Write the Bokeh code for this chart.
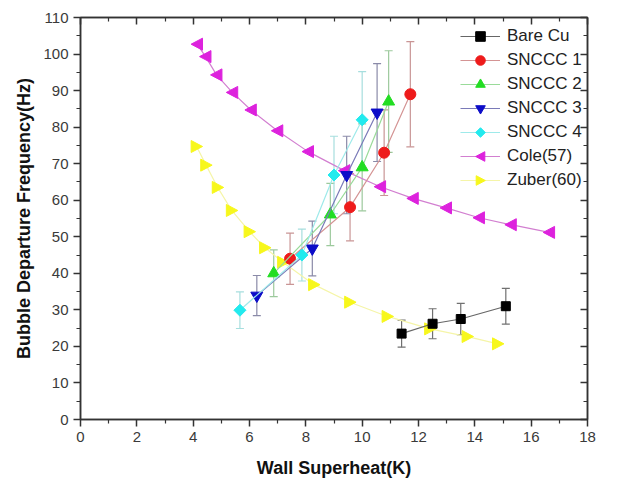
import numpy as np
from bokeh.plotting import figure
from bokeh.models import (Range1d, FixedTicker, LinearAxis, Whisker, TeeHead, CustomJS,
                          ColumnDataSource, Legend, LegendItem, CustomLabelingPolicy)
from bokeh.embed import file_html
from bokeh.resources import INLINE

# ---- data ----
bare_x = [11.4, 12.5, 13.5, 15.1]
bare_y = [23.5, 26.2, 27.5, 31.0]
bare_err = [3.7, 4.1, 4.3, 4.9]

s1_x = [7.44, 9.57, 10.78, 11.71]
s1_y = [44.0, 58.1, 73.0, 89.0]
s1_err = [7.0, 9.2, 11.7, 14.4]

s2_x = [6.86, 8.87, 10.0, 10.94]
s2_y = [40.0, 56.1, 69.0, 87.0]
s2_err = [6.4, 8.5, 11.9, 13.9]

s3_x = [6.26, 8.23, 9.45, 10.53]
s3_y = [33.9, 46.8, 66.9, 84.0]
s3_err = [5.5, 7.5, 10.6, 13.4]

s4_x = [5.66, 7.86, 9.0, 10.0]
s4_y = [29.9, 45.0, 66.9, 82.0]
s4_err = [5.0, 7.1, 10.6, 13.2]

cole_x = [4.14, 4.44, 4.83, 5.39, 6.05, 6.99, 8.08, 9.37, 10.64, 11.8, 12.98, 14.15, 15.28, 16.64]
cole_y = [102.7, 99.3, 94.3, 89.5, 84.7, 79.0, 73.3, 68.1, 63.7, 60.5, 57.9, 55.2, 53.3, 51.2]

zuber_x = [4.12, 4.46, 4.87, 5.37, 6.0, 6.55, 7.19, 8.29, 9.57, 10.9, 12.41, 13.74, 14.82]
zuber_y = [74.7, 69.6, 63.5, 57.2, 51.4, 47.0, 43.0, 36.9, 32.1, 28.2, 24.8, 22.7, 20.7]

x_ticks = [0, 2, 4, 6, 8, 10, 12, 14, 16, 18]
x_minor = [1, 3, 5, 7, 9, 11, 13, 15, 17]
y_ticks = [0, 10, 20, 30, 40, 50, 60, 70, 80, 90, 100, 110]
y_minor = [5, 15, 25, 35, 45, 55, 65, 75, 85, 95, 105]

FONT = "Liberation Sans"
AX = "#333333"

# custom marker outlines (unit shapes, scaled by the marker radius)
SHAPES = {
    "@left": [[-1.0, 0.0], [0.9, -1.0], [0.9, 1.0]],
    "@right": [[1.0, 0.0], [-0.9, -1.0], [-0.9, 1.0]],
    "@rhomb": [[0.0, -1.0], [1.0, 0.0], [0.0, 1.0], [-1.0, 0.0]],
}
MARKER_JS = """
const d = cb_data
const ctx = d.ctx
const r = d.r
ctx.beginPath()
ctx.moveTo(pts[0][0]*r, pts[0][1]*r)
for (let k = 1; k < pts.length; k++) ctx.lineTo(pts[k][0]*r, pts[k][1]*r)
ctx.closePath()
if (d.visuals != null) {
  d.visuals.fill.apply(ctx, d.i)
  d.visuals.line.apply(ctx, d.i)
} else {
  ctx.fillStyle = color
  ctx.fill()
}
"""

p = figure(width=608, height=484, output_backend="svg", toolbar_location=None,
           x_range=Range1d(0, 18), y_range=Range1d(0, 110),
           min_border_left=80, min_border_right=10, min_border_top=17,
           min_border_bottom=65)
p.xgrid.visible = False
p.ygrid.visible = False
p.outline_line_color = AX
p.outline_line_width = 1.5
p.background_fill_color = "white"
p.border_fill_color = "white"

xt = FixedTicker(ticks=x_ticks, minor_ticks=x_minor)
yt = FixedTicker(ticks=y_ticks, minor_ticks=y_minor)

no_labels = CustomLabelingPolicy(code="""
    for (const i of Array.from(indices)) indices.unset(i)
    return indices
""")

def style(ax, labels=True, inward=False):
    ax.axis_line_color = AX
    ax.axis_line_width = 1.5
    ax.major_tick_line_color = AX
    ax.minor_tick_line_color = AX
    ax.major_tick_line_width = 1.5
    ax.minor_tick_line_width = 1.2
    if inward:
        ax.major_tick_in, ax.major_tick_out = 7, 0
        ax.minor_tick_in, ax.minor_tick_out = 4, 0
    else:
        ax.major_tick_in, ax.major_tick_out = 0, 7
        ax.minor_tick_in, ax.minor_tick_out = 0, 4
    if labels:
        ax.major_label_text_font = FONT
        ax.major_label_text_font_size = "15px"
        ax.major_label_text_color = "#3a3a3a"
        ax.major_label_standoff = 5
        ax.axis_label_text_font = FONT
        ax.axis_label_text_font_size = "18px"
        ax.axis_label_text_font_style = "bold"
        ax.axis_label_text_color = "#111111"
    else:
        ax.major_label_policy = no_labels
        ax.major_label_standoff = 0

p.xaxis.ticker = xt
p.yaxis.ticker = yt
p.xaxis.axis_label = "Wall Superheat(K)"
p.yaxis.axis_label = "Bubble Departure Frequency(Hz)"
style(p.xaxis[0])
style(p.yaxis[0])
p.xaxis.axis_label_standoff = 13
p.yaxis.axis_label_standoff = 6

top = LinearAxis(ticker=xt)
style(top, labels=False, inward=True)
p.add_layout(top, "above")
right = LinearAxis(ticker=yt)
style(right, labels=False, inward=True)
p.add_layout(right, "right")

items = {}

def series(name, xs, ys, errs, mcolor, lcolor, ecolor, marker, size):
    if errs is not None:
        src = ColumnDataSource(dict(x=xs, upper=[y + e for y, e in zip(ys, errs)],
                                    lower=[y - e for y, e in zip(ys, errs)]))
        w = Whisker(source=src, base="x", upper="upper", lower="lower",
                    dimension="height", line_color=ecolor, line_width=1.2,
                    upper_head=TeeHead(size=8, line_color=ecolor, line_width=1.2),
                    lower_head=TeeHead(size=8, line_color=ecolor, line_width=1.2))
        w.level = "underlay"
        p.add_layout(w)
    ln = p.line(xs, ys, line_color=lcolor, line_width=1.2)
    kw = {}
    if marker.startswith("@"):
        kw["defs"] = {marker: CustomJS(args=dict(pts=SHAPES[marker], color=mcolor),
                                       code=MARKER_JS)}
    sc = p.scatter(xs, ys, marker=marker, size=size,
                   fill_color=mcolor, line_color=mcolor, line_width=1, **kw)
    items[name] = [ln, sc]

series("Cole(57)", cole_x, cole_y, None, "#dd22dd", "#d27fd0", None, "@left", 12)
series("Zuber(60)", zuber_x, zuber_y, None, "#f7f71c", "#f5f5a8", None, "@right", 12)
series("Bare Cu", bare_x, bare_y, bare_err, "#000000", "#666666", "#707070", "square", 9)
series("SNCCC 1", s1_x, s1_y, s1_err, "#ee1b1b", "#d49494", "#c99595", "circle", 11)
series("SNCCC 2", s2_x, s2_y, s2_err, "#22dd22", "#9adb9a", "#9cc99c", "triangle", 12)
series("SNCCC 3", s3_x, s3_y, s3_err, "#0c0cc8", "#7a7ab8", "#8a8aa8", "inverted_triangle", 12)
series("SNCCC 4", s4_x, s4_y, s4_err, "#22eaee", "#9eeaea", "#a6dede", "@rhomb", 12)

order = ["Bare Cu", "SNCCC 1", "SNCCC 2", "SNCCC 3", "SNCCC 4", "Cole(57)", "Zuber(60)"]
legend = Legend(items=[LegendItem(label=n, renderers=items[n]) for n in order],
                location=(380, 227), padding=0, margin=0, spacing=0,
                glyph_width=40, glyph_height=24, label_height=24,
                label_standoff=7, label_text_font=FONT, label_text_font_size="17px",
                label_text_color="#222222",
                border_line_alpha=0, background_fill_alpha=0)
p.add_layout(legend)

open("out.html", "w").write(file_html(p, INLINE))
